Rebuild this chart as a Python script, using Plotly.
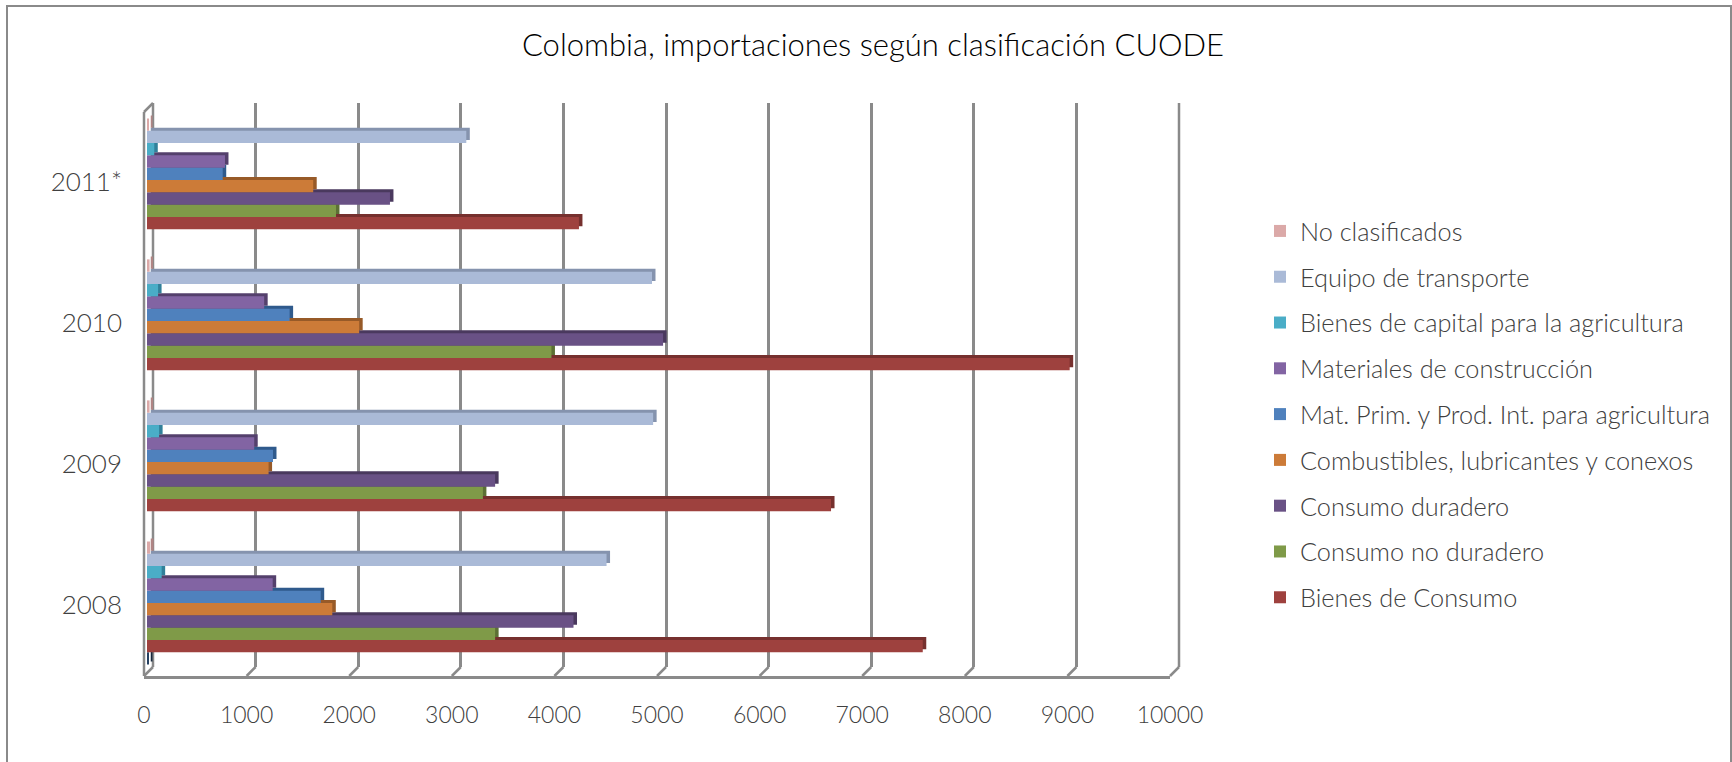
import plotly.graph_objects as go

W, H = 1732, 762
categories = ["2008", "2009", "2010", "2011*"]
sin_nombre = [15, 0, 0, 0]
bienes_consumo = [7561, 6667, 8993, 4210]
consumo_no_duradero = [3393, 3274, 3942, 1842]
consumo_duradero = [4157, 3393, 5030, 2368]
combustibles = [1806, 1185, 2068, 1620]
mat_prim = [1693, 1228, 1390, 738]
materiales = [1225, 1045, 1142, 760]
bienes_capital = [143, 118, 108, 71]
equipo_transporte = [4479, 4933, 4922, 3112]
no_clasificados = [30, 25, 25, 20]

series = [
    ("", sin_nombre, "#254061", "#17283d"),
    ("Bienes de Consumo", bienes_consumo, "#9E413E", "#76302e"),
    ("Consumo no duradero", consumo_no_duradero, "#7F9A48", "#5c7034"),
    ("Consumo duradero", consumo_duradero, "#695185", "#4a395e"),
    ("Combustibles, lubricantes y conexos", combustibles, "#CC7B38", "#975a28"),
    ("Mat. Prim. y Prod. Int. para agricultura", mat_prim, "#4F81BD", "#2f5a8c"),
    ("Materiales de construcción", materiales, "#8264A3", "#54406c"),
    ("Bienes de capital para la agricultura", bienes_capital, "#4AADC7", "#31809a"),
    ("Equipo de transporte", equipo_transporte, "#AABAD7", "#8593AE"),
    ("No clasificados", no_clasificados, "#DBA9A8", "#b08584"),
]
ticks = list(range(0, 11000, 1000))
FONT = "Lato Light, Lato, sans-serif"
GRID = "#8a8a8a"
SCALE = 1026
DEPTH = 9

def dx(a, b):
    return [a / W, b / W]
def dy(top, bottom):
    return [1 - bottom / H, 1 - top / H]
def px(x):
    return x / W
def py(y):
    return 1 - y / H

fig = go.Figure()
# the wall and floor axes carry no marks of their own; an empty trace keeps each of them on the page
for xa, ya in (("x", "y"), ("x4", "y4")):
    fig.add_trace(go.Scatter(x=[0], y=[0], mode="markers", marker=dict(opacity=0), xaxis=xa, yaxis=ya,
                             showlegend=False, hoverinfo="skip"))
for name, vals, col, dark in series:
    fig.add_trace(go.Bar(y=categories, x=vals, orientation="h", marker=dict(color=dark, line_width=0),
                         xaxis="x2", yaxis="y2", showlegend=False, hoverinfo="skip"))
for i, (name, vals, col, dark) in enumerate(series):
    fig.add_trace(go.Bar(y=categories, x=vals, name=name, orientation="h", marker=dict(color=col, line_width=0),
                         xaxis="x3", yaxis="y3", showlegend=bool(name), legendgroup=name, legendrank=1000 - i))

hidden = dict(showgrid=False, zeroline=False, showticklabels=False, ticks="", showline=False)
fig.update_layout(
    width=W, height=H, margin=dict(l=0, r=0, t=0, b=0, pad=0, autoexpand=False),
    paper_bgcolor="white", plot_bgcolor="rgba(0,0,0,0)",
    barmode="group", bargap=0.126, bargroupgap=0,
    font=dict(family=FONT, color="#404040", size=22),
    title=dict(text="Colombia, importaciones según clasificación CUODE", x=(523 + 1223) / 2 / W, xanchor="center",
               y=1 - 45 / H, yanchor="middle", font=dict(family=FONT, size=31, color="#000000")),
    # back wall
    xaxis=dict(domain=dx(153, 153 + SCALE), range=[0, 10000], tickvals=ticks, showgrid=True, gridcolor=GRID, gridwidth=2.5,
               zeroline=False, showticklabels=False, anchor="y", showline=False),
    yaxis=dict(domain=dy(103, 667), range=[0, 1], anchor="x", **hidden),
    # bar side faces
    xaxis2=dict(domain=dx(150.5, 150.5 + SCALE), range=[0, 10000], anchor="y2", **hidden),
    yaxis2=dict(domain=dy(106.5, 670.5), type="category", categoryorder="array", categoryarray=categories, anchor="x2", **hidden),
    # bar fronts
    xaxis3=dict(domain=dx(147, 147 + SCALE), range=[0, 10000], anchor="y3", **hidden),
    yaxis3=dict(domain=dy(109.5, 673.5), type="category", categoryorder="array", categoryarray=categories, anchor="x3",
                showgrid=False, zeroline=False, showline=False, ticks="", ticklabelstandoff=24, ticklabelshift=2,
                tickfont=dict(size=26, color="#404040", family=FONT)),
    # front floor edge with value labels
    xaxis4=dict(domain=dx(144, 144 + SCALE), range=[0, 10000], tickvals=ticks, tickformat="d", anchor="y4", showgrid=False,
                zeroline=False, showline=True, linecolor=GRID, linewidth=2.5, ticks="", ticklabelstandoff=17,
                tickfont=dict(size=23, color="#404040", family=FONT)),
    yaxis4=dict(domain=dy(112, 676), range=[0, 1], anchor="x4", **hidden),
    legend=dict(xref="container", yref="container", x=1260 / W, y=1 - 208 / H, xanchor="left", yanchor="top",
                traceorder="grouped", tracegroupgap=9.9, maxheight=520,
                font=dict(size=25.3, color="#404040", family=FONT), bgcolor="rgba(0,0,0,0)"),
)

line = dict(color=GRID, width=2.5)
shapes = [dict(type="rect", xref="paper", yref="paper", x0=px(7), x1=px(1731), y0=-0.01, y1=py(6),
               line=dict(color=GRID, width=2), layer="below")]
# left wall front edge, top edge and depth lines on the floor, placed from the value scale
shapes.append(dict(type="line", xref="paper", yref="paper", x0=px(144), x1=px(144), y0=py(112), y1=py(676), line=line))
shapes.append(dict(type="line", xref="paper", yref="paper", x0=px(144), x1=px(153), y0=py(112), y1=py(103), line=line))
for t in ticks:
    bx = 153 + t / 10000 * SCALE
    shapes.append(dict(type="line", xref="paper", yref="paper", x0=px(bx), x1=px(bx - DEPTH), y0=py(667), y1=py(676), line=line))
# plotly leaves out the gridlines at the two ends of the range
for t in (ticks[0], ticks[-1]):
    bx = 153 + t / 10000 * SCALE
    shapes.append(dict(type="line", xref="paper", yref="paper", x0=px(bx), x1=px(bx), y0=py(103), y1=py(667), line=line, layer="below"))
fig.update_layout(shapes=shapes)

fig.write_html("out.html", config=dict(displayModeBar=False),
               post_script="document.body.style.margin='0';document.body.style.overflow='hidden';")
